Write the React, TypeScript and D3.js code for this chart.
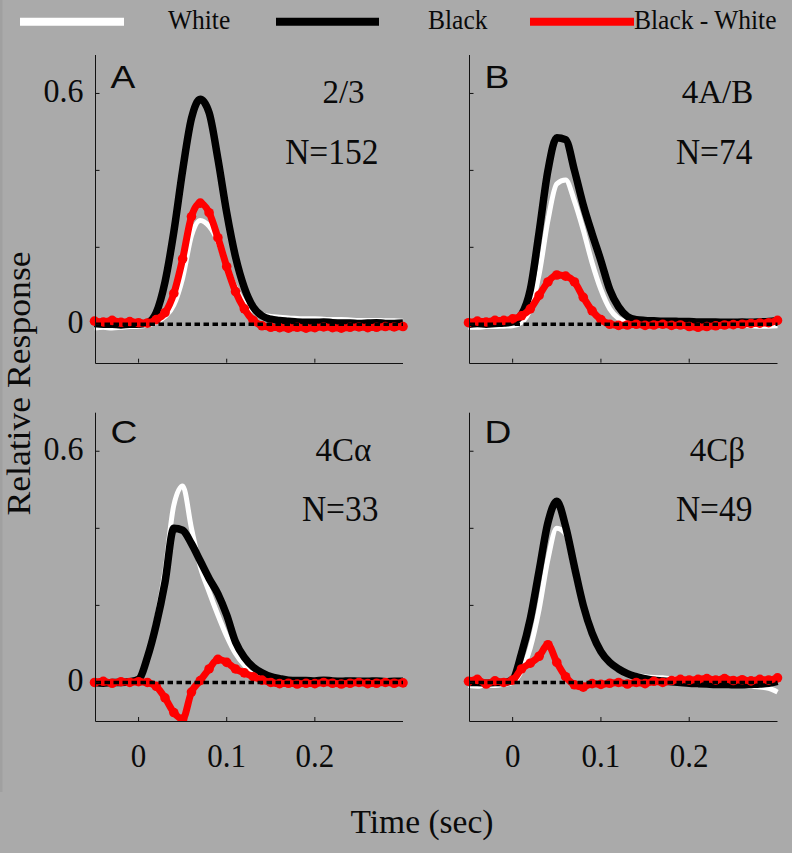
import React from 'react';
import * as d3 from 'd3';

const W = 792;
const H = 853;
const BG = '#aaaaaa';
const SERIF = '"Liberation Serif", "Times New Roman", serif';
const SANS = '"Liberation Sans", Arial, sans-serif';

// time axis (sec), one sample every 10 ms
const times = [
  -0.05, -0.04, -0.03, -0.02, -0.01, 0.0, 0.01, 0.02, 0.03, 0.04, 0.05, 0.06,
  0.07, 0.08, 0.09, 0.1, 0.11, 0.12, 0.13, 0.14, 0.15, 0.16, 0.17, 0.18,
  0.19, 0.2, 0.21, 0.22, 0.23, 0.24, 0.25, 0.26, 0.27, 0.28, 0.29, 0.3,
];

// panel A (2/3)
const blackA = [
  0.002, 0.0, 0.0, -0.002, 0.0, 0.0, 0.004, 0.03, 0.11, 0.24, 0.4, 0.535,
  0.585, 0.55, 0.43, 0.29, 0.175, 0.095, 0.045, 0.022, 0.013, 0.01, 0.008, 0.006,
  0.005, 0.005, 0.006, 0.004, 0.003, 0.003, 0.002, 0.003, 0.004, 0.002, 0.002, 0.003,
];
const whiteA = [
  -0.01, -0.008, -0.01, -0.008, -0.006, -0.005, -0.002, 0.005, 0.02, 0.05, 0.12, 0.23,
  0.27, 0.255, 0.215, 0.15, 0.095, 0.055, 0.035, 0.025, 0.02, 0.018, 0.016, 0.015,
  0.014, 0.014, 0.013, 0.012, 0.012, 0.011, 0.01, 0.01, 0.01, 0.009, 0.009, 0.008,
];
const diffA = [
  0.008, 0.006, 0.01, 0.005, 0.007, 0.004, 0.003, 0.012, 0.03, 0.08, 0.17, 0.28,
  0.315, 0.29, 0.225, 0.15, 0.085, 0.04, 0.01, -0.004, -0.008, -0.009, -0.01, -0.008,
  -0.01, -0.009, -0.007, -0.009, -0.01, -0.008, -0.007, -0.009, -0.008, -0.006, -0.007, -0.006,
];

// panel B (4A/B)
const blackB = [
  0.0, 0.002, 0.0, 0.002, 0.003, 0.006, 0.025, 0.09, 0.24, 0.4, 0.485, 0.48,
  0.4, 0.31, 0.235, 0.165, 0.09, 0.045, 0.02, 0.012, 0.01, 0.009, 0.008, 0.008,
  0.007, 0.007, 0.006, 0.006, 0.006, 0.005, 0.005, 0.006, 0.005, 0.006, 0.007, 0.01,
];
const whiteB = [
  -0.008, -0.008, -0.006, -0.006, -0.005, -0.004, 0.005, 0.04, 0.13, 0.27, 0.365, 0.375,
  0.32, 0.245, 0.16, 0.09, 0.04, 0.015, 0.006, 0.004, 0.004, 0.004, 0.003, 0.003,
  0.003, 0.002, 0.002, 0.001, 0.0, 0.0, -0.002, -0.003, -0.004, -0.005, -0.005, -0.004,
];
const diffB = [
  0.004, 0.008, 0.006, 0.01, 0.01, 0.014, 0.022, 0.04, 0.075, 0.11, 0.128, 0.125,
  0.11, 0.07, 0.035, 0.012, 0.0, -0.003, -0.002, 0.0, -0.003, -0.002, 0.0, -0.003,
  -0.002, -0.006, -0.008, -0.006, -0.004, -0.002, -0.001, 0.0, 0.002, 0.003, 0.004, 0.01,
];

// panel C (4C alpha)
const blackC = [
  0.0, -0.002, 0.0, 0.0, 0.002, 0.008, 0.065, 0.15, 0.26, 0.4, 0.395, 0.36,
  0.315, 0.27, 0.23, 0.175, 0.105, 0.065, 0.04, 0.025, 0.015, 0.01, 0.006, 0.005,
  0.005, 0.004, 0.006, 0.004, 0.003, 0.004, 0.003, 0.003, 0.004, 0.002, 0.003, 0.003,
];
const whiteC = [
  -0.003, 0.0, -0.002, 0.0, 0.0, 0.005, 0.06, 0.16, 0.29, 0.46, 0.51, 0.4,
  0.3, 0.235, 0.175, 0.12, 0.075, 0.045, 0.025, 0.015, 0.01, 0.008, 0.006, 0.005,
  0.005, 0.004, 0.004, 0.005, 0.003, 0.004, 0.003, 0.004, 0.003, 0.003, 0.002, 0.003,
];
const diffC = [
  0.0, 0.003, -0.002, 0.002, 0.0, 0.002, 0.0, -0.01, -0.04, -0.078, -0.095, -0.025,
  0.005, 0.035, 0.06, 0.052, 0.035, 0.025, 0.015, 0.006, 0.0, -0.003, -0.002, -0.004,
  -0.002, -0.003, 0.0, -0.002, -0.004, -0.002, 0.0, -0.003, -0.002, 0.0, -0.002, -0.001,
];

// panel D (4C beta)
const blackD = [
  0.0, 0.0, -0.002, 0.0, 0.0, 0.008, 0.075, 0.165, 0.29, 0.415, 0.47, 0.405,
  0.3, 0.2, 0.128, 0.08, 0.052, 0.035, 0.023, 0.015, 0.01, 0.006, 0.004, 0.002,
  0.0, -0.002, -0.003, -0.004, -0.005, -0.005, -0.006, -0.006, -0.005, -0.004, -0.002, 0.003,
];
const whiteD = [
  -0.008, -0.01, -0.006, -0.008, -0.005, 0.0, 0.03, 0.09, 0.19, 0.32, 0.4, 0.385,
  0.29, 0.195, 0.125, 0.08, 0.05, 0.033, 0.024, 0.018, 0.015, 0.013, 0.012, 0.01,
  0.01, 0.006, 0.004, 0.002, 0.0, -0.003, -0.005, -0.008, -0.01, -0.012, -0.015, -0.025,
];
const diffD = [
  0.003, 0.008, -0.004, 0.004, 0.0, 0.006, 0.035, 0.05, 0.068, 0.098, 0.052, 0.015,
  -0.006, -0.012, -0.003, -0.005, -0.002, 0.0, -0.004, 0.0, -0.003, 0.003, 0.0, 0.005,
  0.008, 0.006, 0.008, 0.01, 0.006, 0.01, 0.005, 0.007, 0.004, 0.008, 0.006, 0.012,
];

const letters = ['A', 'B', 'C', 'D'];
const layers = ['2/3', '4A/B', '4C\u03b1', '4C\u03b2'];
const counts = ['N=152', 'N=74', 'N=33', 'N=49'];
const xTicks = [0, 0.1, 0.2];
const xTickLabels = ['0', '0.1', '0.2'];
const yTicks = [0, 0.2, 0.4, 0.6];
const yTickLabeled = [0, 0.6];
const legendNames = ['White', 'Black', 'Black - White'];

const panels = [
  { white: whiteA, black: blackA, diff: diffA },
  { white: whiteB, black: blackB, diff: diffB },
  { white: whiteC, black: blackC, diff: diffC },
  { white: whiteD, black: blackD, diff: diffD },
];

// layout
const colX = [[94.5, 403], [468.5, 777.5]];
const rowY = [[362.7, 55], [721, 412.7]];
const letterY = [88, 443];

const Label = ({ x, y, size, sx = 1, sy = 1, rotate = 0, anchor = 'start', font = SERIF, children }) => (
  <text
    transform={`translate(${x},${y}) rotate(${rotate}) scale(${sx},${sy})`}
    fontSize={size}
    fontFamily={font}
    textAnchor={anchor}
    fill="#0a0a0a"
  >
    {children}
  </text>
);

function Panel({ idx, data }) {
  const col = idx % 2;
  const row = Math.floor(idx / 2);
  const x = d3.scaleLinear().domain([-0.05, 0.3]).range(colX[col]);
  const y = d3.scaleLinear().domain([-0.1, 0.7]).range(rowY[row]);
  const line = d3
    .line()
    .x((d, i) => x(times[i]))
    .y(d => y(d))
    .curve(d3.curveMonotoneX);

  const ax = Math.round(x.range()[0]) + 0.5;
  const [yb, yt] = y.range();
  const xe = x.range()[1];
  const clipId = `clip-${idx}`;

  return (
    <g>
      <defs>
        <clipPath id={clipId}>
          <rect x={ax - 20} y={yt - 20} width={xe - ax + 40} height={yb - yt + 20} />
        </clipPath>
      </defs>
      <g clipPath={`url(#${clipId})`}>
        <path d={line(data.white)} fill="none" stroke="#ffffff" strokeWidth={5} strokeLinejoin="round" />
        <path d={line(data.black)} fill="none" stroke="#000000" strokeWidth={7.5} strokeLinejoin="round" />
        <path d={line(data.diff)} fill="none" stroke="#ff0000" strokeWidth={7} strokeLinejoin="round" />
        {data.diff.map((v, i) => (
          <circle key={i} cx={x(times[i])} cy={y(v)} r={4.8} fill="#ff0000" />
        ))}
        <line x1={ax} x2={xe} y1={y(0)} y2={y(0)} stroke="#000" strokeWidth={3.5} strokeDasharray="5.5,3.5" />
      </g>
      {/* axes */}
      <line x1={ax} x2={ax} y1={yt} y2={Math.round(yb) + 0.5} stroke="#111" strokeWidth={1} />
      <line x1={ax} x2={xe} y1={Math.round(yb) + 0.5} y2={Math.round(yb) + 0.5} stroke="#111" strokeWidth={1} />
      {yTicks.map(t => (
        <line key={t} x1={ax} x2={ax + 4} y1={y(t)} y2={y(t)} stroke="#111" strokeWidth={1} />
      ))}
      {xTicks.map(t => (
        <line key={t} x1={x(t)} x2={x(t)} y1={yb} y2={yb - 4} stroke="#111" strokeWidth={1} />
      ))}
      {col === 0 &&
        yTickLabeled.map(t => (
          <Label key={t} x={ax - 12} y={y(t) + 8.7} size={32} sy={1.06} anchor="end">
            {t === 0 ? '0' : String(t)}
          </Label>
        ))}
      {row === 1 &&
        xTicks.map((t, i) => (
          <Label key={t} x={x(t)} y={yb + 45.7} size={31} sy={1.1} anchor="middle">
            {xTickLabels[i]}
          </Label>
        ))}
      <Label x={ax + 15} y={letterY[row]} size={31} sx={1.2} font={SANS}>
        {letters[idx]}
      </Label>
      <Label x={ax + 248} y={yt + 48} size={33} sy={1.05} anchor="middle">
        {layers[idx]}
      </Label>
      <Label x={ax + 283} y={yt + 108.5} size={33.5} sy={1.07} anchor="end">
        {counts[idx]}
      </Label>
    </g>
  );
}

export default function App() {
  const legendColors = ['#ffffff', '#000000', '#ff0000'];
  const legendLineX = [[20, 124], [276, 379], [530, 634]];
  const legendTextX = [168, 428, 634];
  return (
    <svg
      width={W}
      height={H}
      viewBox={`0 0 ${W} ${H}`}
      style={{ position: 'absolute', left: 0, top: 0, display: 'block' }}
    >
      <rect x={0} y={0} width={W} height={H} fill={BG} />
      <rect x={0} y={0} width={2.5} height={792} fill="#a0a0a0" />
      {legendNames.map((name, i) => (
        <g key={name}>
          <line
            x1={legendLineX[i][0]}
            x2={legendLineX[i][1]}
            y1={21.7}
            y2={21.7}
            stroke={legendColors[i]}
            strokeWidth={8}
          />
          <Label x={legendTextX[i]} y={29.3} size={25.5} sy={1.05}>
            {name}
          </Label>
        </g>
      ))}
      {panels.map((p, i) => (
        <Panel key={i} idx={i} data={p} />
      ))}
      <Label x={30} y={383.5} size={33} rotate={-90} sx={1.08} anchor="middle">
        Relative Response
      </Label>
      <Label x={422} y={833} size={33.5} anchor="middle">
        Time (sec)
      </Label>
    </svg>
  );
}
